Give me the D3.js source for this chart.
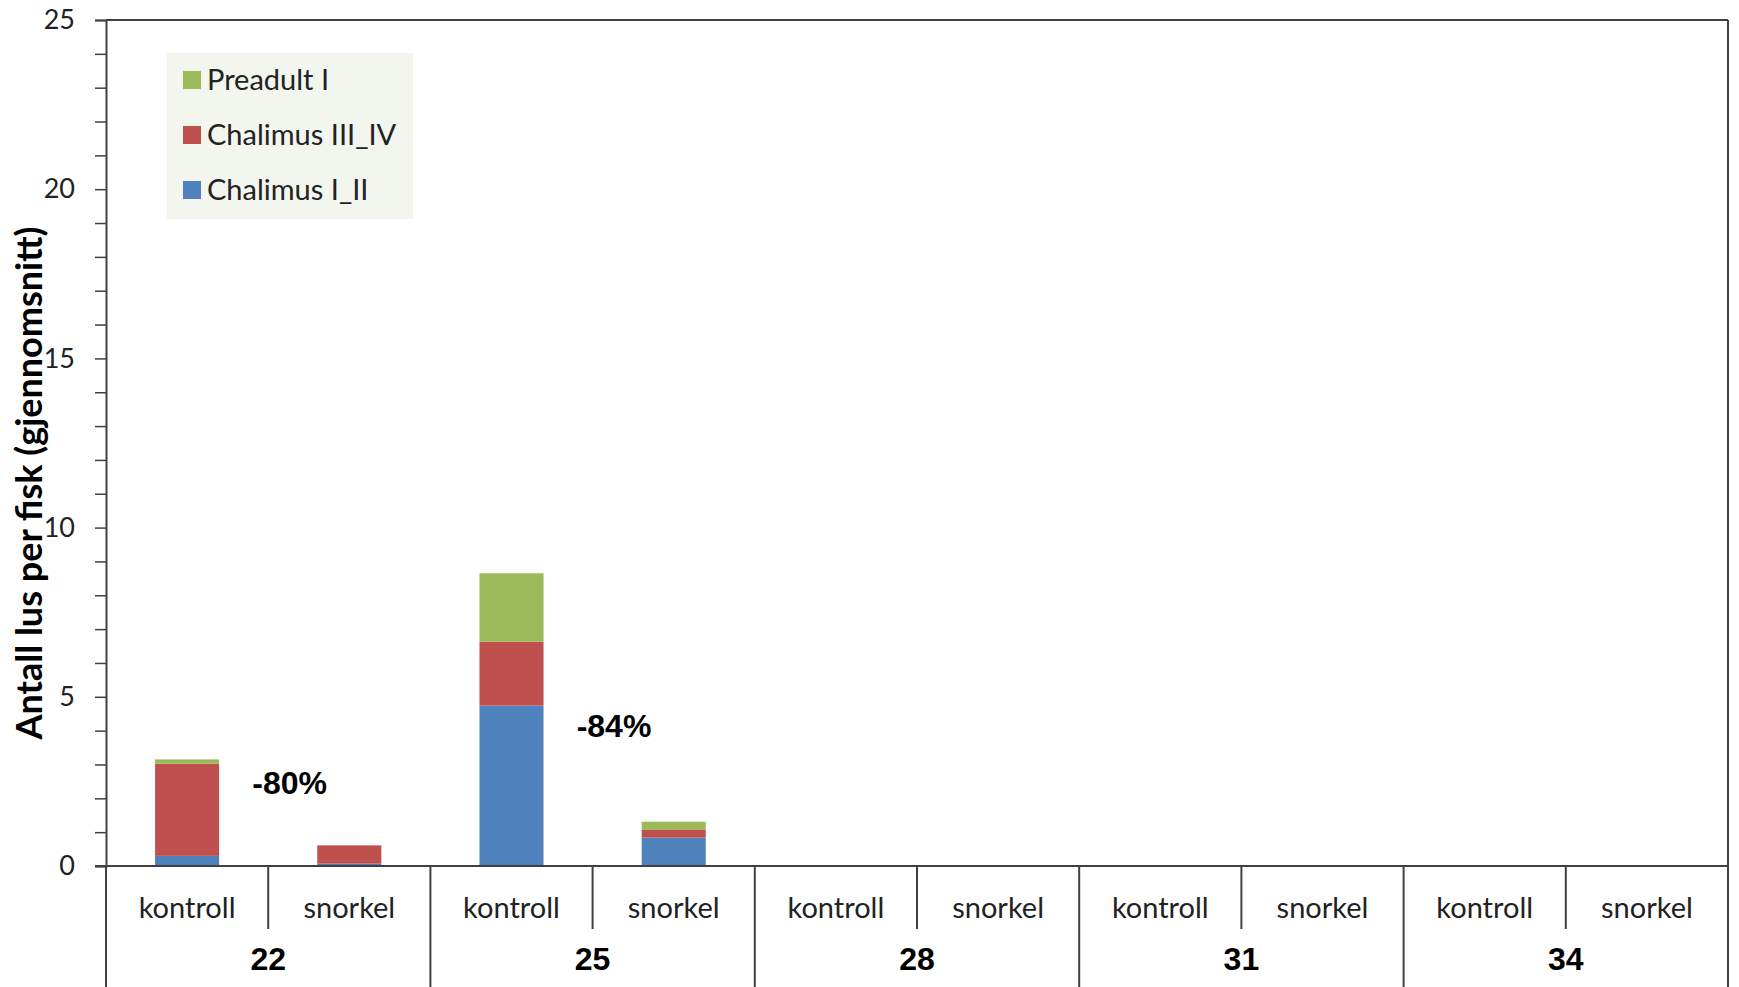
<!DOCTYPE html>
<html><head><meta charset="utf-8">
<script src="https://cdn.jsdelivr.net/npm/d3@7"></script>
<style>
html,body{margin:0;padding:0;background:#fff;}
svg{display:block;}
</style></head>
<body>
<svg id="chart" width="1739" height="987"></svg>
<script>
const weeks = ["22","25","28","31","34"];
const treatments = ["kontroll","snorkel"];
const seriesNames = ["Chalimus I_II","Chalimus III_IV","Preadult I"];
const seriesColors = ["#4f81bd","#c0504d","#9bbb59"];
// values per week x treatment (kontroll, snorkel)
const chalimusI_II   = [[0.30,0.07],[4.74,0.84],[0,0],[0,0],[0,0]];
const chalimusIII_IV = [[2.72,0.54],[1.89,0.24],[0,0],[0,0],[0,0]];
const preadultI      = [[0.13,0.00],[2.02,0.23],[0,0],[0,0],[0,0]];
// reduction annotations (label placed at value level yPos)
const reductions = [{week:"22",label:"-80%",yPos:2.12},{week:"25",label:"-84%",yPos:3.82}];
const yTicks = [0,5,10,15,20,25];

const svg = d3.select("#chart");
const m = {left:106, right:1739-1728, top:20, bottom:987-866};
const W = 1739, H = 987;
const x0 = d3.scaleBand().domain(weeks).range([m.left, W-m.right]).padding(0);
const x1 = d3.scaleBand().domain(treatments).range([0, x0.bandwidth()]).paddingInner(0.605).paddingOuter(0.3025);
const xs = d3.scaleBand().domain(treatments).range([0, x0.bandwidth()]).padding(0);
const y = d3.scaleLinear().domain([0,25]).range([H-m.bottom, m.top]);

const rows = [];
weeks.forEach((w,i)=>treatments.forEach((t,j)=>{
  rows.push({week:w, treat:t, "Chalimus I_II":chalimusI_II[i][j], "Chalimus III_IV":chalimusIII_IV[i][j], "Preadult I":preadultI[i][j]});
}));
const stack = d3.stack().keys(seriesNames)(rows);

const axisColor = "#404040";
const bodyFont = "Lato, 'Open Sans', sans-serif";
const boldFont = "'Liberation Sans', Arial, sans-serif";

// bars
stack.forEach((layer,k)=>{
  svg.append("g").selectAll("rect").data(layer).join("rect")
    .attr("x", d=>x0(d.data.week)+x1(d.data.treat))
    .attr("width", x1.bandwidth())
    .attr("y", d=>y(d[1]))
    .attr("height", d=>Math.max(0, y(d[0])-y(d[1])))
    .attr("fill", seriesColors[k]);
});

// plot border (top & right)
svg.append("line").attr("x1",m.left).attr("x2",W-m.right).attr("y1",m.top).attr("y2",m.top).attr("stroke",axisColor).attr("stroke-width",2);
svg.append("line").attr("x1",W-m.right).attr("x2",W-m.right).attr("y1",m.top).attr("y2",H-m.bottom).attr("stroke",axisColor).attr("stroke-width",2);

// y axis
const yAxis = d3.axisLeft(y).tickValues(d3.range(0,26,1)).tickSize(11).tickFormat(d=> yTicks.includes(d)? d : "").tickPadding(20);
const gy = svg.append("g").attr("transform",`translate(${m.left},0)`).call(yAxis);
gy.select(".domain").attr("stroke",axisColor).attr("stroke-width",2);
gy.selectAll(".tick line").attr("stroke",axisColor).attr("stroke-width",1.5);
gy.selectAll(".tick text").attr("fill","#222").style("font-family",bodyFont).style("font-size","27px");

// x baseline
svg.append("line").attr("x1",m.left-11).attr("x2",W-m.right).attr("y1",y(0)).attr("y2",y(0)).attr("stroke",axisColor).attr("stroke-width",2);

// group separators
const seps = weeks.map(w=>x0(w)).concat([W-m.right]);
svg.append("g").selectAll("line").data(seps).join("line")
  .attr("x1",d=>d).attr("x2",d=>d).attr("y1",y(0)).attr("y2",H+5)
  .attr("stroke",axisColor).attr("stroke-width",2);
// inner separators
svg.append("g").selectAll("line").data(weeks).join("line")
  .attr("x1",d=>x0(d)+xs("snorkel")).attr("x2",d=>x0(d)+xs("snorkel")).attr("y1",y(0)).attr("y2",929)
  .attr("stroke",axisColor).attr("stroke-width",2);

// treatment labels
weeks.forEach(w=>{
  svg.append("g").selectAll("text").data(treatments).join("text")
    .attr("x",t=>x0(w)+xs(t)+xs.bandwidth()/2).attr("y",918)
    .attr("text-anchor","middle").attr("fill","#222")
    .style("font-family",bodyFont).style("font-size","29px")
    .text(t=>t);
});
// week labels
svg.append("g").selectAll("text").data(weeks).join("text")
  .attr("x",w=>x0(w)+x0.bandwidth()/2).attr("y",970)
  .attr("text-anchor","middle").attr("fill","#000")
  .style("font-family",boldFont).style("font-weight","bold").style("font-size","32px")
  .text(w=>w);

// reduction labels
svg.append("g").selectAll("text").data(reductions).join("text")
  .attr("x",d=>x0(d.week)+x0.bandwidth()*0.566)
  .attr("y",d=>y(d.yPos))
  .attr("text-anchor","middle").attr("fill","#000")
  .style("font-family",boldFont).style("font-weight","bold").style("font-size","32px")
  .text(d=>d.label);

// y title
svg.append("text").attr("transform",`translate(42,${(m.top+(H-m.bottom))/2 + 40}) rotate(-90)`)
  .attr("text-anchor","middle").attr("fill","#000")
  .style("font-family",bodyFont).style("font-weight","bold").style("font-size","36px")
  .text("Antall lus per fisk (gjennomsnitt)");

// legend
const lg = svg.append("g");
lg.append("rect").attr("x",167).attr("y",53).attr("width",246).attr("height",166).attr("fill","#f3f6ee");
const legendItems = seriesNames.slice().reverse();
const legendColors = seriesColors.slice().reverse();
legendItems.forEach((n,i)=>{
  const cy = 80 + i*55;
  lg.append("rect").attr("x",183).attr("y",cy-9).attr("width",18).attr("height",18).attr("fill",legendColors[i]);
  lg.append("text").attr("x",207).attr("y",cy).attr("dy","0.35em").attr("fill","#222")
    .style("font-family",bodyFont).style("font-size","29px").text(n);
});
</script>
</body></html>
